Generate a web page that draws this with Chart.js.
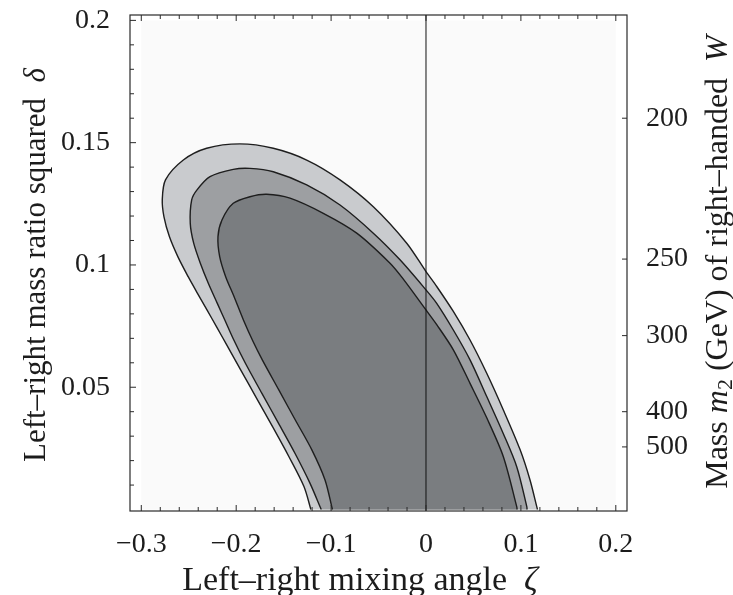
<!DOCTYPE html>
<html>
<head>
<meta charset="utf-8">
<script src="https://cdn.jsdelivr.net/npm/chart.js@4.4.0/dist/chart.umd.min.js"></script>
<style>
  html, body { margin: 0; padding: 0; background: #fff; }
  canvas { display: block; }
</style>
</head>
<body>
<canvas id="c" width="733" height="595"></canvas>
<script>
/* ===== allowed (zeta, delta) region — contours ===== */

// outer (lightest) contour
const OUTER_ZETA  = [-0.1213,-0.1286,-0.1444,-0.1617,-0.1795,-0.1953,-0.21,-0.2208,-0.2308,-0.2408,-0.2506,-0.2615,-0.2704,-0.2761,-0.2779,-0.2745,-0.2557,-0.2311,-0.196,-0.1609,-0.1257,-0.0906,-0.0555,-0.0203,0,0.0113,0.0288,0.0464,0.064,0.0815,0.0991,0.1096,0.1167,0.1175];
const OUTER_DELTA = [0,0.0094,0.0216,0.0339,0.0462,0.0571,0.0673,0.0748,0.0816,0.0884,0.0952,0.1034,0.1116,0.1197,0.1266,0.1348,0.1429,0.1477,0.1495,0.1477,0.1429,0.1348,0.1238,0.1089,0.0973,0.0912,0.081,0.0693,0.0557,0.0407,0.0245,0.0121,0.0012,0];

// middle contour
const MID_ZETA  = [-0.1104,-0.1223,-0.1381,-0.1555,-0.1729,-0.1903,-0.2025,-0.212,-0.2199,-0.2294,-0.2378,-0.2448,-0.2484,-0.2469,-0.2413,-0.2276,-0.2031,-0.1855,-0.1609,-0.1257,-0.0906,-0.0555,-0.0274,0,0.0113,0.0288,0.0464,0.064,0.0815,0.0956,0.1062,0.1065];
const MID_DELTA = [0,0.0108,0.023,0.0353,0.0475,0.0598,0.0693,0.0775,0.0843,0.0925,0.1007,0.1089,0.117,0.1266,0.1307,0.1361,0.1391,0.1395,0.1381,0.1327,0.1245,0.113,0.1021,0.0898,0.0843,0.0734,0.0612,0.0462,0.031,0.0175,0.0012,0];

// inner (darkest) contour
const INNER_ZETA  = [-0.0986,-0.1064,-0.1203,-0.1377,-0.1551,-0.1725,-0.1821,-0.1924,-0.2022,-0.2111,-0.2174,-0.2192,-0.215,-0.2031,-0.1855,-0.1679,-0.1433,-0.1082,-0.073,-0.0379,-0.0239,0,0.0113,0.0288,0.0464,0.064,0.0815,0.0956,0.096];
const INNER_DELTA = [0,0.0121,0.0244,0.0366,0.0489,0.0612,0.0686,0.0775,0.087,0.0952,0.1034,0.1116,0.1184,0.1252,0.1279,0.1289,0.1273,0.1211,0.113,0.1007,0.0942,0.0816,0.0756,0.0653,0.0516,0.0375,0.0216,0.0012,0];

const X_TICKS    = [-0.3, -0.2, -0.1, 0, 0.1, 0.2];
const Y_TICKS    = [0.05, 0.1, 0.15, 0.2];
const MASS_TICKS = [200, 250, 300, 400, 500];   // GeV, right axis
const M_W = 80.0;                               // delta = (M_W / m2)^2

const X_MIN = -0.3119, X_MAX = 0.2118;
const Y_MIN = -0.0006, Y_MAX = 0.2022;
const DOMAIN = { x0: -0.3, x1: 0.2, y0: 0, y1: 0.2 };

const pts = (xs, ys) => xs.map((x, i) => ({ x, y: ys[i] }));
const num = v => v === 0 ? "0" : (v < 0 ? "\u2212" : "") + String(Math.abs(v));

const INK = "#1c1c1c";
const TICK_FONT = { family: "'Liberation Serif', 'DejaVu Serif', serif", size: 28 };
const SERIF = "'Liberation Serif', serif";

function region(data, fillColor, order){
  return {
    data, order, showLine: true, fill: "shape",
    backgroundColor: fillColor, borderColor: "#1e1e1e", borderWidth: 1.4,
    pointRadius: 0, tension: 0.3
  };
}

// fixed frame: no extra label padding, widths set by hand
const fixBox = (w, h) => s => {
  if (w != null) s.width = w;
  if (h != null) s.height = h;
  s.paddingTop = s.paddingBottom = s.paddingLeft = s.paddingRight = 0;
};

// draw a line of text made of differently styled parts, centred on (x,y)
function richText(ctx, parts, x, y, rot){
  ctx.save();
  ctx.translate(x, y); ctx.rotate(rot);
  ctx.fillStyle = INK; ctx.textBaseline = "alphabetic";
  let w = 0;
  parts.forEach(p => { ctx.font = p.f; w += ctx.measureText(p.t).width; });
  let cx = -w / 2;
  parts.forEach(p => { ctx.font = p.f; ctx.fillText(p.t, cx, p.dy || 0); cx += ctx.measureText(p.t).width; });
  ctx.restore();
}

const framePlugin = {
  id: "frame",
  beforeDatasetsDraw(chart){
    const {ctx, scales:{x, y}} = chart;
    // faint plot-domain background
    const l = x.getPixelForValue(DOMAIN.x0), r = x.getPixelForValue(DOMAIN.x1);
    const t = y.getPixelForValue(DOMAIN.y1), b = y.getPixelForValue(DOMAIN.y0);
    ctx.save(); ctx.fillStyle = "#fafafa"; ctx.fillRect(l, t, r - l, b - t); ctx.restore();
  },
  afterDraw(chart){
    const {ctx, chartArea:a, scales:{x, y, y2}} = chart;
    ctx.save();
    ctx.strokeStyle = "#2a2a2a"; ctx.lineWidth = 1.2;
    ctx.strokeRect(a.left, a.top, a.right - a.left, a.bottom - a.top);
    ctx.lineWidth = 1;
    ctx.beginPath();
    // x ticks, bottom and top, pointing in
    for (let i = 0; i <= 25; i++){
      const px = x.getPixelForValue(-0.3 + i * 0.02);
      const len = i % 5 === 0 ? 6 : 4;
      ctx.moveTo(px, a.bottom); ctx.lineTo(px, a.bottom - len);
      ctx.moveTo(px, a.top);    ctx.lineTo(px, a.top + len);
    }
    // left y ticks
    for (let i = 1; i <= 20; i++){
      const py = y.getPixelForValue(i * 0.01);
      const len = i % 5 === 0 ? 6 : 4;
      ctx.moveTo(a.left, py); ctx.lineTo(a.left + len, py);
    }
    // right mass ticks
    y2.ticks.forEach(t => {
      const py = y2.getPixelForValue(t.value);
      ctx.moveTo(a.right, py); ctx.lineTo(a.right - 5, py);
    });
    ctx.stroke();
    ctx.restore();

    const reg = s => s + "px " + SERIF, ita = s => "italic " + s + "px " + SERIF;
    richText(ctx, [{t:"Left\u2013right mixing angle  ", f:reg(34)}, {t:"\u03b6", f:ita(34)}], 360, 590, 0);
    richText(ctx, [{t:"Left\u2013right mass ratio squared  ", f:reg(31)}, {t:"\u03b4", f:ita(31)}], 45, 265, -Math.PI/2);
    richText(ctx, [
      {t:"Mass ", f:reg(32)}, {t:"m", f:ita(32)}, {t:"2", f:reg(22), dy:5},
      {t:" (GeV) of right\u2013handed  ", f:reg(32)}, {t:"W", f:ita(32)}
    ], 727, 262, -Math.PI/2);
  }
};

new Chart(document.getElementById("c"), {
  type: "scatter",
  data: {
    datasets: [
      region(pts(OUTER_ZETA, OUTER_DELTA), "#c9cbce", 3),
      region(pts(MID_ZETA, MID_DELTA), "#9d9fa2", 2),
      region(pts(INNER_ZETA, INNER_DELTA), "#7a7d80", 1),
      { data: [{x:0, y:Y_MIN}, {x:0, y:Y_MAX}], order: 0, showLine: true, fill: false,
        borderColor: "#111", borderWidth: 1, pointRadius: 0 }
    ]
  },
  options: {
    responsive: false, animation: false,
    layout: { padding: { top: 15, left: 0, right: 0, bottom: 0 } },
    plugins: { legend: { display: false }, tooltip: { enabled: false } },
    scales: {
      x: {
        type: "linear", min: X_MIN, max: X_MAX,
        grid: { display: false }, border: { display: false },
        afterBuildTicks: s => { s.ticks = X_TICKS.map(v => ({ value: v })); },
        afterFit: fixBox(null, 84),
        ticks: { autoSkip: false, maxRotation: 0, padding: 9, color: INK, font: TICK_FONT, callback: v => num(v) }
      },
      y: {
        type: "linear", position: "left", min: Y_MIN, max: Y_MAX,
        grid: { display: false }, border: { display: false },
        afterBuildTicks: s => { s.ticks = Y_TICKS.map(v => ({ value: v })); },
        afterFit: fixBox(130, null),
        ticks: { autoSkip: false, padding: 12, color: INK, font: TICK_FONT, callback: v => num(v) }
      },
      y2: {
        type: "linear", position: "right", min: Y_MIN, max: Y_MAX,
        grid: { display: false }, border: { display: false },
        afterBuildTicks: s => { s.ticks = MASS_TICKS.map(m => ({ value: (M_W / m) ** 2 })); },
        afterFit: fixBox(106, null),
        ticks: { autoSkip: false, padding: 11, color: INK, font: TICK_FONT, callback: (v, i) => String(MASS_TICKS[i]) }
      }
    }
  },
  plugins: [framePlugin]
});
</script>
</body>
</html>
